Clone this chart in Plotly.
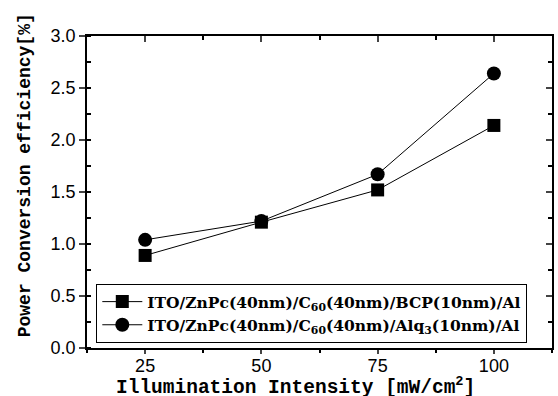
import plotly.graph_objects as go

intensity = [25, 50, 75, 100]
eff_bcp = [0.89, 1.21, 1.52, 2.14]
eff_alq = [1.04, 1.22, 1.67, 2.64]
name_bcp = "<b>ITO/ZnPc(40nm)/C<sub>60</sub>(40nm)/BCP(10nm)/Al</b>"
name_alq = "<b>ITO/ZnPc(40nm)/C<sub>60</sub>(40nm)/Alq<sub>3</sub>(10nm)/Al</b>"
x_title = "Illumination Intensity [mW/cm<sup>2</sup>]"
y_title = "Power Conversion efficiency[%]"
x_ticks = [25, 50, 75, 100]
y_ticks = [0.0, 0.5, 1.0, 1.5, 2.0, 2.5, 3.0]

fig = go.Figure()
fig.add_trace(go.Scatter(x=intensity, y=eff_bcp, mode="lines+markers", name=name_bcp,
                         line=dict(color="black", width=1),
                         marker=dict(symbol="square", size=13, color="black")))
fig.add_trace(go.Scatter(x=intensity, y=eff_alq, mode="lines+markers", name=name_alq,
                         line=dict(color="black", width=1),
                         marker=dict(symbol="circle", size=14, color="black")))

tickfont = dict(family="Arial, Liberation Sans", size=18, color="black")
monofont = "Liberation Mono, Courier New"

fig.update_layout(
    width=558, height=396,
    margin=dict(l=87, r=6, t=36, b=48),
    paper_bgcolor="white", plot_bgcolor="white",
    showlegend=True,
    legend=dict(x=0.02, y=0.205, xanchor="left", yanchor="top",
                bordercolor="black", borderwidth=1, bgcolor="white",
                font=dict(family="DejaVu Serif", size=15.5, color="black"),
                itemwidth=40, tracegroupgap=0),
    xaxis=dict(range=[12.5, 112.5], tickvals=x_ticks, ticks="outside", ticklen=4, tickwidth=1.5,
               showline=True, linecolor="black", linewidth=1.5, mirror=True, showgrid=False, zeroline=False,
               tickfont=tickfont, automargin=False, ticklabelstandoff=-3,
               minor=dict(dtick=12.5, tick0=0, ticks="outside", ticklen=3, tickcolor="black")),
    yaxis=dict(range=[0, 3.0], tickvals=y_ticks, tickformat=".1f", ticks="outside", ticklen=6, tickwidth=1.5,
               showline=True, linecolor="black", linewidth=1.5, mirror=True, showgrid=False, zeroline=False,
               tickfont=tickfont, automargin=False,
               minor=dict(dtick=0.25, ticks="inside", ticklen=4, tickcolor="black")),
    xaxis2=dict(range=[12.5, 112.5], overlaying="x", side="top", tickvals=x_ticks, ticks="inside",
                ticklen=6, tickwidth=1.5, showticklabels=False, showgrid=False, zeroline=False, automargin=False,
                minor=dict(dtick=12.5, tick0=0, ticks="inside", ticklen=4, tickcolor="black")),
    yaxis2=dict(range=[0, 3.0], overlaying="y", side="right", tickvals=y_ticks, ticks="inside",
                ticklen=6, tickwidth=1.5, showticklabels=False, showgrid=False, zeroline=False, automargin=False,
                minor=dict(dtick=0.25, ticks="inside", ticklen=4, tickcolor="black")),
)
fig.add_trace(go.Scatter(x=[None], y=[None], xaxis="x2", yaxis="y2", showlegend=False, hoverinfo="skip"))

fig.add_annotation(text=x_title, xref="paper", yref="paper", x=0.449, y=-0.124,
                   xanchor="center", yanchor="middle", showarrow=False,
                   font=dict(family=monofont, size=19.5, color="black", weight="bold"))
fig.add_annotation(text=y_title, xref="paper", yref="paper", x=-0.133, y=0.554, textangle=-90,
                   xanchor="center", yanchor="middle", showarrow=False,
                   font=dict(family=monofont, size=18, color="black", weight="bold"))

fig.write_html("out.html", config={"displayModeBar": False},
               post_script="document.body.style.margin='0';document.body.style.overflow='hidden';")
